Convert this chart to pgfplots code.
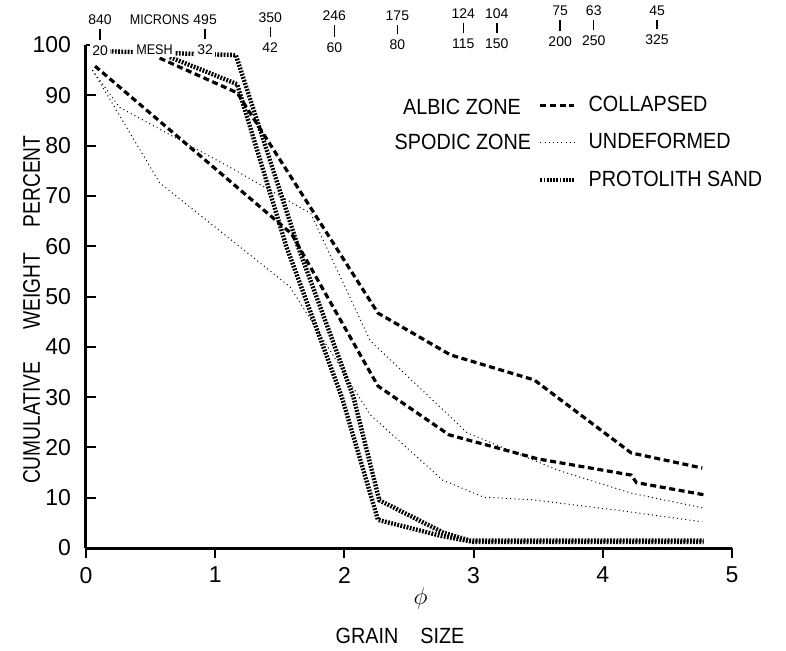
\documentclass[border=0pt]{standalone}
\usepackage{pgfplots}
\pgfplotsset{compat=1.18}
\usepackage{fontspec}
\setmainfont{Liberation Sans}
\newfontfamily\condA[FakeStretch=0.9]{Liberation Sans}
\newfontfamily\condB[FakeStretch=0.8]{Liberation Sans}
\newcommand\sieve[5]{%
  \node[fill=white] at (axis cs:#1,#5) {#3};
  \node at (axis cs:#1,#4) {#2};
  \draw[line width=0.7pt] (axis cs:#1,#5+2.1) -- (axis cs:#1,#4-1.9);
}
\begin{document}
\begin{tikzpicture}
\useasboundingbox (-43pt,-51pt) rectangle (350pt,274pt);
\begin{axis}[
  at={(0,0)}, anchor=south west,
  scale only axis, width=323pt, height=251.5pt,
  xmin=0, xmax=5, ymin=0, ymax=100,
  axis x line=bottom, axis y line=left,
  axis line style={-, line width=1.5pt},
  xtick={0,1,2,3,4,5}, ytick={0,10,...,100},
  tick align=inside, major tick length=5pt,
  tick style={line width=1pt, black},
  x tick style={yshift=-5pt},
  xticklabel style={yshift=-6pt},
  yticklabel style={xshift=-4pt},
  ticklabel style={font=\fontsize{11.5}{12}\selectfont},
  /pgf/number format/assume math mode=true,
  clip=false,
  legend style={draw=none, fill=none, at={(axis cs:3.45,91.5)}, anchor=north west,
    font=\condA\fontsize{11}{13}\selectfont, row sep=5.5pt, nodes={inner xsep=6pt}},
  legend cell align=left,
]
% legend-bearing series
\addplot[black, line width=1.6pt, dash pattern=on 3pt off 1.8pt] coordinates {
 (0.07,95.8) (1.59,62.5) (2.26,32.2) (2.81,22.5) (3.50,17.7) (4.22,14.5) (4.26,13.0) (4.78,10.6)};
\addlegendentry{COLLAPSED}
\addplot[black, line width=0.5pt, dash pattern=on 0.5pt off 1.6pt] coordinates {
 (0.05,95) (0.26,87.6) (1.12,75.6) (1.74,66.5) (2.2,41.2) (2.95,22.9) (3.65,15.5) (4.22,10.9) (4.77,8.0)};
\addlegendentry{UNDEFORMED}
\addplot[black, line width=2.2pt, dash pattern=on 0.9pt off 0.7pt] coordinates {
 (0.65,97.6) (1.17,92.2) (1.55,60) (1.98,30) (2.26,5.6) (2.75,2.4) (3.0,1.2) (4.78,1.2)};
\addlegendentry{PROTOLITH SAND}
% other series
\addplot[forget plot, black, line width=1.6pt, dash pattern=on 3pt off 1.8pt] coordinates {
 (0.57,97.4) (1.17,90.5) (2.26,46.7) (2.82,38.4) (3.47,33.4) (4.22,18.9) (4.77,15.9)};
\addplot[forget plot, black, line width=0.5pt, dash pattern=on 0.5pt off 1.6pt] coordinates {
 (0.05,95) (0.57,72.6) (1.58,51.9) (2.2,26.5) (2.76,13.5) (3.08,10.1) (3.45,9.6) (4.09,7.6) (4.77,5.2)};
\addplot[forget plot, black, line width=2.2pt, dash pattern=on 0.9pt off 0.7pt] coordinates {
 (0.1,98.8) (1.16,98.0) (1.64,60) (2.07,30) (2.27,9.5) (2.77,3.0) (2.97,1.5) (4.78,1.5)};

% legend side labels
\node[anchor=east, font=\condA\fontsize{11}{13}\selectfont] at (axis cs:3.42,87.6) {ALBIC ZONE};
\node[anchor=east, font=\condA\fontsize{11}{13}\selectfont] at (axis cs:3.50,80.8) {SPODIC ZONE};

% axis titles
\node[font=\fontsize{12}{14}\selectfont] at (axis cs:2.59,-10) {$\phi$};
\node[font=\condA\fontsize{11}{13}\selectfont] at (axis cs:2.43,-17.5) {GRAIN\quad SIZE};
\node[rotate=90, font=\condB\fontsize{12}{14}\selectfont] at (axis cs:-0.42,24.9) {CUMULATIVE};
\node[rotate=90, font=\condB\fontsize{12}{14}\selectfont] at (axis cs:-0.42,51.0) {WEIGHT};
\node[rotate=90, font=\condB\fontsize{12}{14}\selectfont] at (axis cs:-0.42,72.9) {PERCENT};

% top scale: microns and mesh
\begin{scope}[every node/.style={font=\fontsize{7}{8}\selectfont, inner sep=1pt}]
\sieve{0.109}{840}{20}{105.0}{98.8}
\sieve{0.922}{495}{32}{105.0}{99.0}
\sieve{1.426}{350}{42}{105.4}{99.4}
\sieve{1.922}{246}{60}{105.8}{99.4}
\sieve{2.41}{175}{80}{105.8}{100.0}
\sieve{2.92}{124}{115}{106.2}{100.2}
\sieve{3.18}{104}{150}{106.2}{100.2}
\sieve{3.67}{75}{200}{106.8}{100.6}
\sieve{3.93}{63}{250}{106.8}{100.8}
\sieve{4.42}{45}{325}{106.8}{101.0}
\node[fill=white, font=\condA\fontsize{7}{8}\selectfont] at (axis cs:0.53,99.0) {MESH};
\node[font=\condA\fontsize{7}{8}\selectfont] at (axis cs:0.57,105.0) {MICRONS};
\end{scope}
\end{axis}
\end{tikzpicture}
\end{document}
